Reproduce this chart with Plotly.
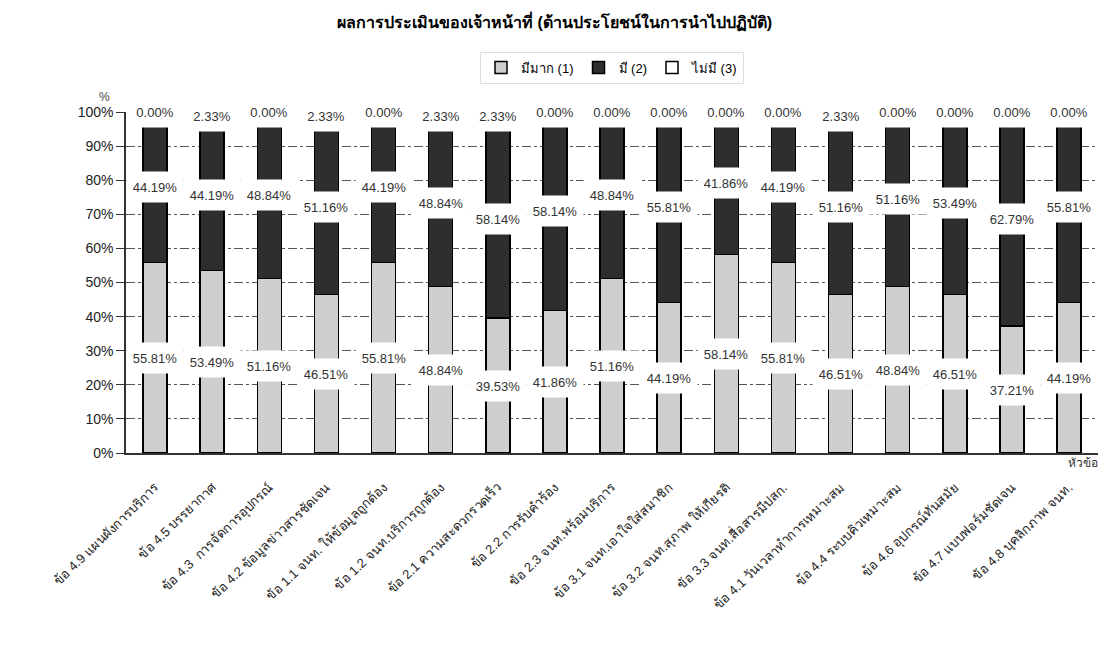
import plotly.graph_objects as go

categories = [
    "ข้อ 4.9 แผนผังการบริการ",
    "ข้อ 4.5 บรรยากาศ",
    "ข้อ 4.3  การจัดการอุปกรณ์",
    "ข้อ 4.2 ข้อมูลข่าวสารชัดเจน",
    "ข้อ 1.1 จนท. ให้ข้อมูลถูกต้อง",
    "ข้อ 1.2 จนท.บริการถูกต้อง",
    "ข้อ 2.1 ความสะดวกรวดเร็ว",
    "ข้อ 2.2 การรับคำร้อง",
    "ข้อ 2.3 จนท.พร้อมบริการ",
    "ข้อ 3.1 จนท.เอาใจใส่สมาชิก",
    "ข้อ 3.2 จนท.สุภาพ ให้เกียรติ",
    "ข้อ 3.3 จนท.สื่อสารมีปสก.",
    "ข้อ 4.1 วันเวลาทำการเหมาะสม",
    "ข้อ 4.4 ระบบคิวเหมาะสม",
    "ข้อ 4.6 อุปกรณ์ทันสมัย",
    "ข้อ 4.7 แบบฟอร์มชัดเจน",
    "ข้อ 4.8 บุคลิกภาพ จนท.",
]
much = [55.81, 53.49, 51.16, 46.51, 55.81, 48.84, 39.53, 41.86, 51.16,
        44.19, 58.14, 55.81, 46.51, 48.84, 46.51, 37.21, 44.19]
have = [44.19, 44.19, 48.84, 51.16, 44.19, 48.84, 58.14, 58.14, 48.84,
        55.81, 41.86, 44.19, 51.16, 51.16, 53.49, 62.79, 55.81]
none = [0.00, 2.33, 0.00, 2.33, 0.00, 2.33, 2.33, 0.00, 0.00,
        0.00, 0.00, 0.00, 2.33, 0.00, 0.00, 0.00, 0.00]
series_names = ["มีมาก (1)", "มี (2)", "ไม่มี (3)"]
y_ticks = list(range(0, 101, 10))

FONT = "Liberation Sans, Arial, sans-serif"
fills = ["#cfcfcf", "#2e2e2e", "#ffffff"]

fig = go.Figure()
for name, vals, col in zip(series_names, [much, have, none], fills):
    fig.add_trace(go.Bar(
        x=categories, y=vals, name=name,
        marker=dict(color=col, line=dict(color="black", width=1.5)),
        width=0.42,
    ))

annotations = []
for i, cat in enumerate(categories):
    base = 0
    for vals in [much, have, none]:
        v = vals[i]
        annotations.append(dict(
            x=cat, y=base + v / 2, xref="x", yref="y",
            text=f"{v:.2f}%", showarrow=False,
            font=dict(family=FONT, size=13, color="#333"),
            bgcolor="white", width=56, height=30, borderpad=0,
        ))
        base += v

annotations.append(dict(text="%", x=0, y=1, xref="paper", yref="paper",
                        xshift=-29, yshift=24, showarrow=False,
                        font=dict(family=FONT, size=12, color="#444")))
annotations.append(dict(text="หัวข้อ", x=1, y=0, xref="paper", yref="paper",
                        xanchor="right", yanchor="top", yshift=-1, xshift=2, showarrow=False,
                        font=dict(family=FONT, size=12, color="#333")))

fig.update_layout(
    barmode="stack",
    width=1109, height=645,
    margin=dict(l=126, r=11, t=112, b=192),
    paper_bgcolor="white", plot_bgcolor="white",
    title=dict(text="<b>ผลการประเมินของเจ้าหน้าที่ (ด้านประโยชน์ในการนำไปปฏิบัติ)</b>",
               x=0.5, xanchor="center", y=0.965, yanchor="middle",
               font=dict(family=FONT, size=16, color="black")),
    legend=dict(orientation="h", x=0.5, xanchor="center", y=1.13, yanchor="middle",
                font=dict(family=FONT, size=13, color="black"),
                bordercolor="#dddddd", borderwidth=1, itemwidth=30, traceorder="normal"),
    annotations=annotations,
    showlegend=True,
)
fig.update_yaxes(range=[0, 100], tickvals=y_ticks, ticktext=[f"{t}%" for t in y_ticks],
                 showgrid=True, gridcolor="#555", griddash="dashdot", gridwidth=1,
                 showline=True, linecolor="#333", linewidth=1.5,
                 ticks="outside", ticklen=8, tickcolor="#333",
                 tickfont=dict(family=FONT, size=14, color="#222"), zeroline=False)
fig.update_xaxes(tickangle=-44, showline=True, linecolor="#333", linewidth=1.5,
                 ticks="outside", ticklen=0, ticklabelstandoff=20, automargin=False,
                 tickfont=dict(family=FONT, size=13, color="#222"))

fig.write_html("out.html")
